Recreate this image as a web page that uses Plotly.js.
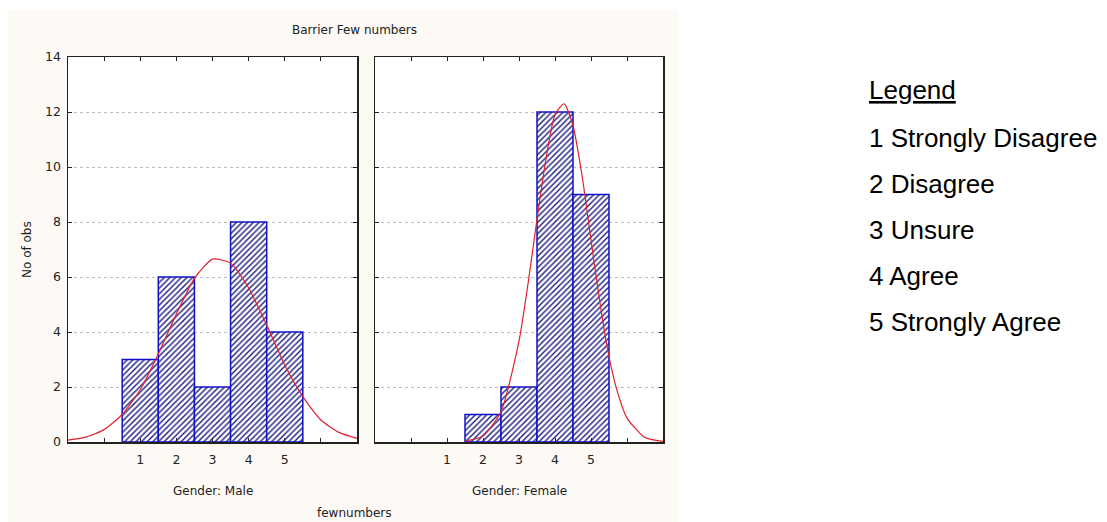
<!DOCTYPE html>
<html>
<head>
<meta charset="utf-8">
<script src="https://cdn.plot.ly/plotly-3.0.1.min.js"></script>
<style>html,body{margin:0;padding:0;background:#fff;}#chart{width:1107px;height:522px;}</style>
</head>
<body>
<div id="chart"></div>
<script>
// ---- data ----
const categories = [1, 2, 3, 4, 5];
const maleCounts = [3, 6, 2, 8, 4];
const femaleCounts = [0, 1, 2, 12, 9];

const tickPositions = [0, 1, 2, 3, 4, 5, 6];
const tickLabels = ['', '1', '2', '3', '4', '5', ''];

// fitted normal curves
const maleCurveX = [-1, -0.5, 0, 0.5, 1, 1.5, 2, 2.5, 3, 3.5, 4, 4.5, 5, 5.5, 6, 6.5, 7];
const maleCurveY = [0.07, 0.18, 0.45, 1.0, 1.9, 3.2, 4.65, 5.95, 6.65, 6.5, 5.6, 4.25, 2.8, 1.65, 0.8, 0.35, 0.13];
const femaleCurveX = [1.5, 2, 2.5, 3, 3.25, 3.5, 3.75, 4, 4.25, 4.5, 4.75, 5, 5.25, 5.5, 5.75, 6, 6.5, 7];
const femaleCurveY = [0.03, 0.22, 1.1, 3.67, 5.75, 8.1, 10.3, 11.9, 12.3, 11.5, 9.7, 7.35, 5.05, 3.1, 1.75, 0.87, 0.16, 0.02];

const legendTitle = 'Legend';
const legendItems = ['1 Strongly Disagree', '2 Disagree', '3 Unsure', '4 Agree', '5 Strongly Agree'];

const chartTitle = 'Barrier Few numbers';
const yTitle = 'No of obs';
const panelTitles = ['Gender: Male', 'Gender: Female'];
const xTitle = 'fewnumbers';

// ---- styles ----
const W = 1107, H = 522;
const px = v => v / W;
const py = v => 1 - v / H;
const smallFont = {family: 'DejaVu Sans', size: 12, color: '#222'};

function barTrace(y, xa, ya) {
  return {
    type: 'bar', x: categories, y: y, xaxis: xa, yaxis: ya, width: 1,
    marker: {
      color: 'white',
      line: {color: '#1010c8', width: y.map(v => v > 0 ? 1.5 : 0)},
      pattern: {shape: '/', fgcolor: '#1e1e80', bgcolor: 'white', size: 4, solidity: 0.36, fillmode: 'replace'}
    },
    hoverinfo: 'skip'
  };
}
function curveTrace(x, y, xa, ya) {
  return {
    type: 'scatter', mode: 'lines', x: x, y: y, xaxis: xa, yaxis: ya,
    line: {color: '#e0202c', width: 1.2, shape: 'spline', smoothing: 0.6},
    hoverinfo: 'skip'
  };
}

const traces = [
  barTrace(maleCounts, 'x', 'y'),
  barTrace(femaleCounts, 'x2', 'y2'),
  curveTrace(maleCurveX, maleCurveY, 'x', 'y'),
  curveTrace(femaleCurveX, femaleCurveY, 'x2', 'y2')
];

const axisCommon = {
  showline: true, linecolor: '#222', linewidth: 1.5, mirror: 'ticks',
  ticks: 'inside', ticklen: 4, tickwidth: 1, tickcolor: '#222',
  zeroline: false, fixedrange: true, tickfont: {family: 'DejaVu Sans', size: 12.5, color: '#222'}
};
const yDomain = [py(442), py(57)];
function xAxis(domain, anchor) {
  return Object.assign({}, axisCommon, {
    domain: domain, anchor: anchor, range: [-1, 7],
    tickmode: 'array', tickvals: tickPositions, ticktext: tickLabels,
    showgrid: false, ticklabelstandoff: 5
  });
}
function yAxis(anchor, showLabels) {
  return Object.assign({}, axisCommon, {
    domain: yDomain, anchor: anchor, range: [0, 14], dtick: 2, tick0: 0,
    showgrid: true, gridcolor: '#bdbdbd', gridwidth: 1, griddash: 'dot',
    showticklabels: showLabels, ticklabelstandoff: 3
  });
}

const annotations = [
  {text: chartTitle, x: px(354), y: py(30), xref: 'paper', yref: 'paper', showarrow: false, font: smallFont, xanchor: 'center', yanchor: 'middle'},
  {text: yTitle, x: px(27), y: py(250), xref: 'paper', yref: 'paper', showarrow: false, font: smallFont, textangle: -90, xanchor: 'center', yanchor: 'middle'},
  {text: panelTitles[0], x: px(213), y: py(491), xref: 'paper', yref: 'paper', showarrow: false, font: smallFont, xanchor: 'center', yanchor: 'middle'},
  {text: panelTitles[1], x: px(519), y: py(491), xref: 'paper', yref: 'paper', showarrow: false, font: smallFont, xanchor: 'center', yanchor: 'middle'},
  {text: xTitle, x: px(354), y: py(513), xref: 'paper', yref: 'paper', showarrow: false, font: smallFont, xanchor: 'center', yanchor: 'middle'},
  {text: '<span style="text-decoration:underline">' + legendTitle + '</span>', x: px(867), y: py(90), xref: 'paper', yref: 'paper', showarrow: false,
   font: {family: 'Liberation Sans', size: 26, color: '#000'}, xanchor: 'left', yanchor: 'middle'}
];
legendItems.forEach((t, i) => {
  annotations.push({text: t, x: px(867), y: py(138 + i * 46), xref: 'paper', yref: 'paper', showarrow: false,
    font: {family: 'Liberation Sans', size: 26, color: '#000'}, xanchor: 'left', yanchor: 'middle'});
});

const shapes = [
  {type: 'rect', xref: 'paper', yref: 'paper', x0: px(8), x1: px(678), y0: 0, y1: py(10), fillcolor: '#fdfaf5', line: {width: 0}, layer: 'below'},
  {type: 'rect', xref: 'x domain', yref: 'y domain', x0: 0, x1: 1, y0: 0, y1: 1, fillcolor: '#ffffff', line: {width: 0}, layer: 'below'},
  {type: 'rect', xref: 'x2 domain', yref: 'y2 domain', x0: 0, x1: 1, y0: 0, y1: 1, fillcolor: '#ffffff', line: {width: 0}, layer: 'below'}
];

const layout = {
  width: W, height: H,
  margin: {l: 0, r: 0, t: 0, b: 0},
  paper_bgcolor: '#ffffff', plot_bgcolor: '#ffffff',
  showlegend: false, barmode: 'overlay', bargap: 0,
  xaxis: xAxis([px(68), px(357)], 'y'),
  yaxis: yAxis('x', true),
  xaxis2: xAxis([px(375), px(663)], 'y2'),
  yaxis2: yAxis('x2', false),
  annotations: annotations,
  shapes: shapes
};

Plotly.newPlot('chart', traces, layout, {displayModeBar: false, staticPlot: true});
</script>
</body>
</html>
